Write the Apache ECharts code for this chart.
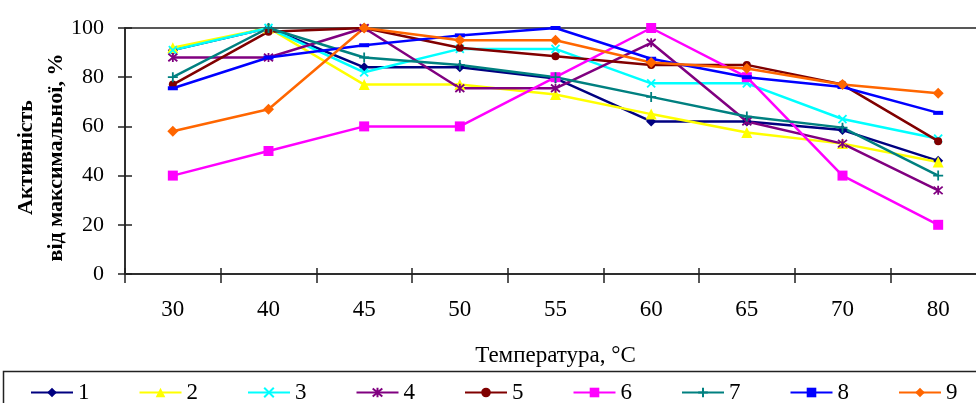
<!DOCTYPE html>
<html>
<head>
<meta charset="utf-8">
<script src="https://cdn.jsdelivr.net/npm/echarts@6/dist/echarts.min.js"></script>
<style>
html,body{margin:0;padding:0;background:#fff;}
#chart{width:976px;height:403px;}
</style>
</head>
<body>
<div id="chart"></div>
<script>
var categories = ['30','40','45','50','55','60','65','70','80'];
var yTicks = [0, 20, 40, 60, 80, 100];
var seriesNames = ['1','2','3','4','5','6','7','8','9'];
var s1 = [91, 100, 84, 84, 79.5, 62, 62, 58.5, 46];
var s2 = [92, 100, 77, 77, 73, 65, 57.5, 53, 45.5];
var s3 = [91, 100, 82, 91.5, 91.5, 77.5, 77.5, 63, 55];
var s4 = [88, 88, 100, 75.5, 75.5, 94, 62, 53, 34];
var s5 = [77, 98.5, 100, 92, 88.5, 85, 85, 77, 54];
var s6 = [40, 50, 60, 60, 80, 100, 80, 40, 20];
var s7 = [80, 100, 88, 85, 80, 72, 64, 59.5, 40];
var s8 = [75.5, 88, 93, 97, 100, 87.5, 80, 76, 65.5];
var s9 = [58, 67, 100, 95, 95, 86, 83.5, 77, 73.5];
var allData = [s1, s2, s3, s4, s5, s6, s7, s8, s9];

var colors = ['#000080','#FFFF00','#00FFFF','#800080','#800000','#FF00FF','#008080','#0000FF','#FF6600'];
var symbols = ['diamond','triangle','path://M0,0L10,10M10,0L0,10','path://M0,0L10,10M10,0L0,10M5,-1L5,11','circle','rect','path://M5,0L5,10M0,5L10,5','rect','diamond'];
var symbolSizes = [10, 11, 8, 9, 8, 10, 10, [10,4], 11];
var strokeSym = [false,false,true,true,false,false,true,false,false];

var font = "'Liberation Serif','Times New Roman',serif";

var series = allData.map(function(d, i){
  return {
    name: seriesNames[i],
    type: 'line',
    data: d,
    xAxisIndex: 0,
    yAxisIndex: 0,
    symbol: symbols[i],
    symbolSize: symbolSizes[i],
    showAllSymbol: true,
    lineStyle: {color: colors[i], width: 2.5},
    itemStyle: strokeSym[i] ? {color: colors[i], borderColor: colors[i], borderWidth: 1.8} : {color: colors[i], borderWidth: 0},
    emphasis: {disabled: true},
    animation: false
  };
});

var chart = echarts.init(document.getElementById('chart'), null, {renderer: 'canvas'});
chart.setOption({
  animation: false,
  color: colors,
  grid: {left: 125, top: 28, width: 861, bottom: 129, containLabel: false, outerBoundsMode: 'none',
    show: true, borderColor: '#222', borderWidth: 1.5, backgroundColor: 'transparent'},
  graphic: [{
    type: 'rect', z: -1,
    shape: {x: 3.5, y: 371.5, width: 1000, height: 60},
    style: {fill: 'none', stroke: '#222', lineWidth: 1.5}
  }],
  legend: {
    data: seriesNames,
    left: 30, top: 381, padding: 0,
    itemWidth: 42, itemHeight: 12, itemGap: 49,
    textStyle: {fontFamily: font, fontSize: 23, color: '#000', padding: [0,0,0,0]},
    selectedMode: false
  },
  xAxis: [{
    type: 'category', data: categories, position: 'bottom',
    axisLine: {lineStyle: {color: '#222', width: 1.5}},
    axisTick: {show: true, length: 9, lineStyle: {color: '#222', width: 1.5}},
    axisLabel: {fontFamily: font, fontSize: 23, color: '#000', margin: 24},
    name: 'Температура, °C', nameLocation: 'middle', nameGap: 70, nameMoveOverlap: false,
    nameTextStyle: {fontFamily: font, fontSize: 23, color: '#000'}
  },{
    type: 'category', data: categories, position: 'bottom',
    axisLine: {show: false},
    axisTick: {show: true, inside: true, length: 6, lineStyle: {color: '#222', width: 1.5}},
    axisLabel: {show: false}
  }],
  yAxis: [{
    type: 'value', min: 0, max: 100, interval: 20, position: 'left',
    splitLine: {show: false},
    axisLine: {show: true, lineStyle: {color: '#222', width: 1.5}},
    axisTick: {show: true, length: 7, lineStyle: {color: '#222', width: 1.5}},
    axisLabel: {fontFamily: font, fontSize: 22, color: '#000', margin: 21,
      formatter: function(v){ return yTicks.indexOf(v) >= 0 ? String(v) : ''; }},
    name: 'Активність\nвід максимальної, %', nameLocation: 'middle', nameRotate: 90, nameGap: 54, nameMoveOverlap: false,
    nameTextStyle: {fontFamily: font, fontSize: 22, fontWeight: 'bold', color: '#000', lineHeight: 30, align: 'center', padding: [0, 13, 0, 0]}
  },{
    type: 'value', min: 0, max: 100, interval: 20, position: 'left',
    splitLine: {show: false},
    axisLine: {show: false},
    axisTick: {show: true, inside: true, length: 7, lineStyle: {color: '#222', width: 1.5}},
    axisLabel: {show: false}
  }],
  series: series
});
</script>
</body>
</html>
